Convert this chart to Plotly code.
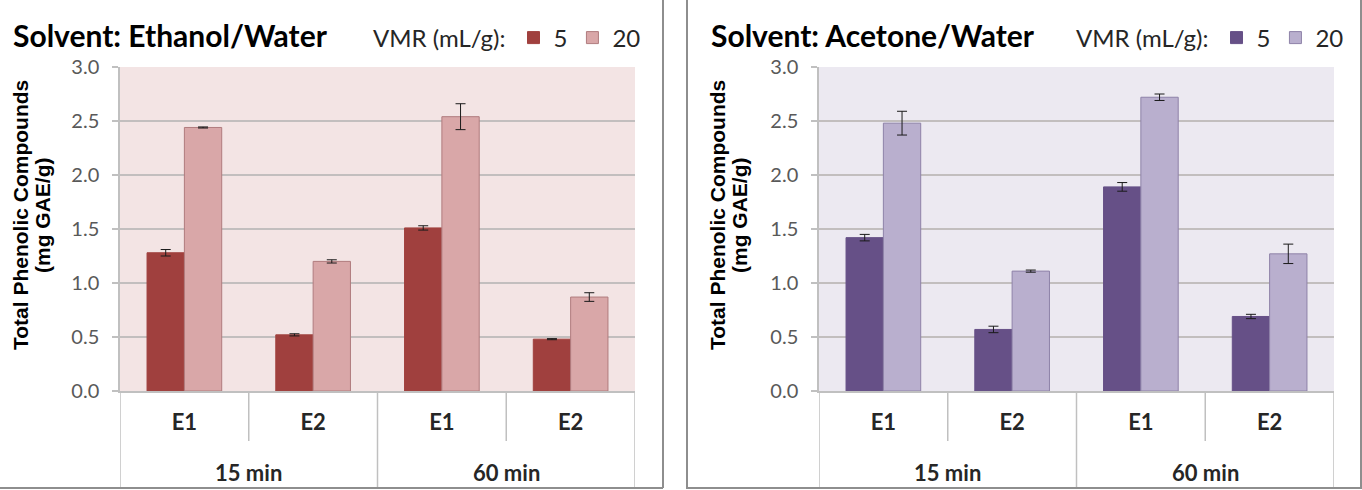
import plotly.graph_objects as go

# ---------------- data ----------------
extracts = ["E1", "E2", "E1", "E2"]
times = ["15 min", "15 min", "60 min", "60 min"]
group_labels = ["15 min", "60 min"]
vmr_names = ["5", "20"]

eth_5 = [1.28, 0.52, 1.51, 0.48]
eth_5_err = [0.03, 0.01, 0.02, 0.005]
eth_20 = [2.44, 1.20, 2.54, 0.87]
eth_20_err = [0.005, 0.015, 0.12, 0.04]

ace_5 = [1.42, 0.57, 1.89, 0.69]
ace_5_err = [0.03, 0.03, 0.04, 0.02]
ace_20 = [2.48, 1.11, 2.72, 1.27]
ace_20_err = [0.11, 0.01, 0.03, 0.09]

y_ticks = [0.0, 0.5, 1.0, 1.5, 2.0, 2.5, 3.0]
panel_titles = ["Solvent: Ethanol/Water", "Solvent: Acetone/Water"]
legend_title = "VMR (mL/g):"
y_title = ["Total Phenolic Compounds", "(mg GAE/g)"]

# ---------------- styling ----------------
W, H = 1362, 490
FONT = "Lato"
TFONT = "Liberation Sans"
GRID = "#C2BEBE"
LINE = "#C0C0C0"
BORDER = "#8E8E8E"

eth_c5, eth_c20, eth_l20, eth_bg = "#A0403E", "#D9A7A8", "#B07C7E", "#F3E4E4"
ace_c5, ace_c20, ace_l20, ace_bg = "#665087", "#B9AFCE", "#8E82A8", "#ECE9F1"


def px_x(p):
    return p / W


def px_y(p):
    return (H - p) / H


y_top, y_axis, y_bottom = 67, 391, 488
panels = [
    dict(x0=120, x1=635, xa="x", ya="y", leg="legend"),
    dict(x0=819, x1=1334, xa="x2", ya="y2", leg="legend2"),
]

xs = list(range(len(extracts)))

fig = go.Figure()
series = [
    (eth_5, eth_5_err, eth_20, eth_20_err, eth_c5, eth_c20, eth_l20),
    (ace_5, ace_5_err, ace_20, ace_20_err, ace_c5, ace_c20, ace_l20),
]
for p, (v5, e5, v20, e20, c5, c20, l20) in zip(panels, series):
    fig.add_trace(go.Bar(
        x=xs, y=v5, name=vmr_names[0], xaxis=p["xa"], yaxis=p["ya"], legend=p["leg"],
        marker=dict(color=c5, line=dict(color=c5, width=1)),
        error_y=dict(type="data", array=e5, color="#1a1a1a", thickness=1, width=5),
    ))
    fig.add_trace(go.Bar(
        x=xs, y=v20, name=vmr_names[1], xaxis=p["xa"], yaxis=p["ya"], legend=p["leg"],
        marker=dict(color=c20, line=dict(color=l20, width=1)),
        error_y=dict(type="data", array=e20, color="#1a1a1a", thickness=1, width=5),
    ))

layout = dict(
    width=W, height=H, margin=dict(l=0, r=0, t=0, b=0, autoexpand=False),
    paper_bgcolor="white", plot_bgcolor="white",
    barmode="group", bargap=0.42, bargroupgap=0.0,
    font=dict(family=FONT, size=18, color="#404040"),
    showlegend=True,
)

shapes = []
annotations = []
for i, (p, bg, title) in enumerate(zip(panels, [eth_bg, ace_bg], panel_titles)):
    sfx = "" if i == 0 else "2"
    layout["xaxis" + sfx] = dict(
        domain=[px_x(p["x0"]), px_x(p["x1"])], anchor="y" + sfx,
        range=[-0.5, len(extracts) - 0.5], tickvals=xs, ticktext=extracts,
        showgrid=False, zeroline=False, showline=True, linecolor=LINE, linewidth=1.5,
        ticks="", ticklabelstandoff=11,
        tickfont=dict(family=FONT, size=22, color="#262626", weight="bold"),
        fixedrange=True,
    )
    layout["yaxis" + sfx] = dict(
        domain=[px_y(y_axis), px_y(y_top)], anchor="x" + sfx,
        range=[0, 3], tickvals=y_ticks, tickformat=".1f",
        showgrid=True, gridcolor=GRID, gridwidth=2, zeroline=False,
        showline=True, linecolor=LINE, linewidth=1.5,
        ticks="outside", ticklen=6, tickcolor=LINE, tickwidth=1.5,
        ticklabelstandoff=9,
        tickfont=dict(family=FONT, size=20, color="#595959"),
        fixedrange=True,
    )
    # plot background tint
    shapes.append(dict(type="rect", xref="x" + sfx + " domain", yref="y" + sfx + " domain",
                       x0=0, x1=1, y0=0, y1=1, fillcolor=bg, line=dict(width=0), layer="below"))
    # category table separators
    for b in range(len(extracts) + 1):
        xb = b - 0.5
        full = b == 0 or b == len(extracts) or times[b - 1] != times[b]
        shapes.append(dict(type="line", xref="x" + sfx, yref="paper",
                           x0=xb, x1=xb, y0=px_y(y_axis), y1=px_y(y_bottom if full else 441),
                           line=dict(color=LINE, width=1.5)))
    # group labels
    for g in group_labels:
        idx = [k for k, t in enumerate(times) if t == g]
        annotations.append(dict(text=g, xref="x" + sfx, yref="paper",
                                x=sum(idx) / len(idx), y=px_y(472), showarrow=False,
                                font=dict(family=FONT, size=22, color="#262626", weight="bold"),
                                xanchor="center", yanchor="middle"))
    # panel title
    tx = 11 if i == 0 else 709
    annotations.append(dict(text=title, xref="paper", yref="paper", x=px_x(tx), y=px_y(35),
                            xanchor="left", yanchor="middle", showarrow=False,
                            font=dict(family=FONT, size=30, color="#000000", weight="bold")))
    # y axis title (two lines)
    ox = 0 if i == 0 else 697
    for j, (line_txt, cx) in enumerate(zip(y_title, [20, 42])):
        annotations.append(dict(text=line_txt, xref="paper", yref="paper",
                                x=px_x(ox + cx), y=px_y(215), textangle=-90,
                                xanchor="center", yanchor="middle", showarrow=False,
                                font=dict(family=TFONT, size=21, color="#000000", weight="bold")))
    # legend
    lx = 371 if i == 0 else 1074
    layout["legend" if i == 0 else "legend2"] = dict(
        orientation="h", x=px_x(lx), xanchor="left", y=px_y(38), yanchor="middle",
        title=dict(text=legend_title, side="left", font=dict(family=FONT, size=24, color="#262626")),
        font=dict(family=FONT, size=24, color="#262626"),
        bgcolor="rgba(0,0,0,0)", traceorder="normal", itemclick=False,
    )

# panel borders
shapes.append(dict(type="line", xref="paper", yref="paper", x0=0, x1=px_x(663),
                   y0=px_y(y_bottom), y1=px_y(y_bottom), line=dict(color=BORDER, width=2)))
shapes.append(dict(type="line", xref="paper", yref="paper", x0=px_x(663), x1=px_x(663),
                   y0=px_y(y_bottom), y1=1, line=dict(color=BORDER, width=2)))
shapes.append(dict(type="rect", xref="paper", yref="paper", x0=px_x(687), x1=px_x(1361),
                   y0=px_y(y_bottom), y1=1.01, line=dict(color=BORDER, width=2)))

layout["shapes"] = shapes
layout["annotations"] = annotations
fig.update_layout(**layout)
fig.write_html("out.html")
